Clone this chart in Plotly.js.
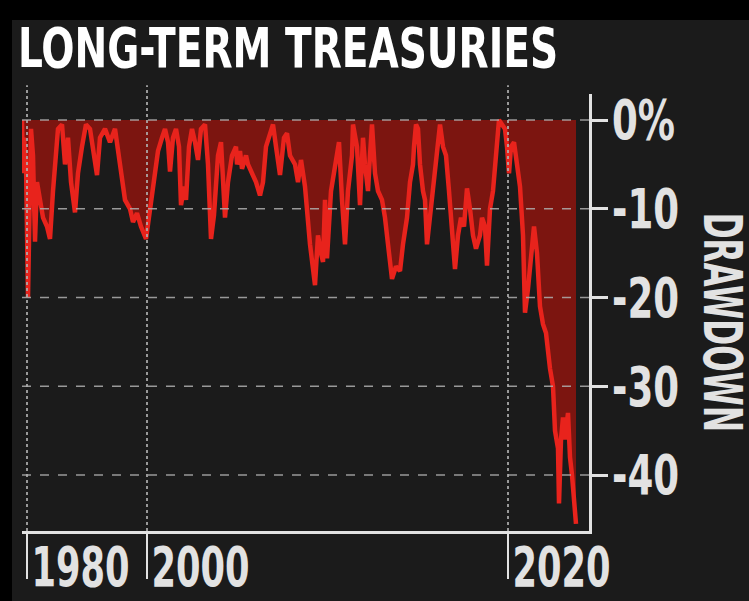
<!DOCTYPE html>
<html>
<head>
<meta charset="utf-8">
<script src="https://cdn.plot.ly/plotly-3.0.1.min.js"></script>
<style>
  html, body { margin: 0; padding: 0; background: #000; width: 749px; height: 601px; overflow: hidden; }
  #chart { position: absolute; left: 12px; top: 20px; width: 737px; height: 581px; }
</style>
</head>
<body>
<div id="chart"></div>
<script>
// time index (chart positions along the period axis) and drawdown values (%)
const period = [0,1,2,4,6,8,9,11,13,15,18,21,25,28,31,34,36,40,43,46,49,53,56,60,64,68,75,78,83,88,93,98,103,108,111,115,119,124,127,129,133,136,140,143,146,148,151,154,157,159,162,164,167,170,173,176,179,183,186,189,192,196,199,203,206,210,214,215,218,220,224,226,230,234,238,241,244,248,251,254,258,262,265,268,273,276,279,283,288,293,296,299,301,303,305,309,314,317,320,323,326,330,331,335,338,341,343,346,348,350,353,356,360,363,366,370,374,378,381,385,388,391,392,394,396,398,401,403,405,408,411,414,416,418,421,424,427,430,433,436,439,442,445,448,451,454,458,460,463,465,468,471,473,475,477,480,483,485,487,489,492,495,498,501,503,506,509,512,515,518,521,524,528,531,533,536,537,539,541,543,546,548,550,552,554];
const drawdown = [0,-6,-2,-5,-20,-8,-1,-4,-13.7,-7,-9,-11,-12,-13.4,-8,-3,-1,-0.5,-5,-2,-7,-10.4,-6,-3,-0.5,-1,-6.2,-2,-1,-2.5,-1,-5,-9,-10,-11.5,-10.5,-12,-13.4,-11,-9,-6,-3.5,-2,-1,-2.5,-5.8,-2,-1,-3,-9.6,-7.5,-9,-3,-1,-2.5,-4.5,-1,-0.5,-5,-13.4,-10.7,-4,-2.5,-11,-7,-4,-3,-5,-3.5,-5.5,-4,-5,-6,-7,-8.5,-7,-3,-1.5,-0.5,-3,-6.2,-2,-1.5,-4,-5,-7,-4.5,-7.5,-14,-18.6,-13,-15,-16,-9,-15.6,-8,-4.5,-2.5,-9,-14,-8,-4,-0.5,-3,-9.6,-2,-5,-8,-4,-0.5,-6,-8,-9,-11,-14,-17.9,-16.5,-17,-14,-11,-7,-5,-3,-0.5,-1,-5,-8,-9,-14,-11,-8,-4.5,-2,-0.5,-3,-4,-8,-13,-16.8,-13,-11,-12,-7.7,-10,-13,-14.5,-13,-11,-12,-16.4,-10,-8,-5,-2,0,-0.5,-1,-3,-6,-3,-2.5,-5,-7.5,-13,-21.7,-19,-15,-12,-15,-21,-23,-24,-28,-30,-35,-37,-43.2,-36,-33.5,-36,-33,-38,-40,-43,-45.5];

const xTickVals = [5, 125, 486];
const xTickText = ['1980', '2000', '2020'];
const yTickVals = [0, -10, -20, -30, -40];
const yTickText = ['0%', '-10', '-20', '-30', '-40'];

const FONT = '"DejaVu Sans Condensed", "DejaVu Sans", sans-serif';
const AXIS = '#e2e2e2';
const GRID = 'rgba(175,175,175,0.85)';

const shapes = [];
yTickVals.forEach(v => shapes.push({type:'line', xref:'paper', yref:'y', x0:0, x1:1, y0:v, y1:v,
  line:{color:GRID, width:1.5, dash:'dash'}, layer:'above'}));
xTickVals.forEach(v => shapes.push({type:'line', xref:'x', yref:'paper', x0:v, x1:v, y0:0, y1:1.02,
  line:{color:GRID, width:2, dash:'dot'}, layer:'above'}));

const trace = {
  x: period, y: drawdown, type:'scatter', mode:'lines',
  fill:'tozeroy', fillcolor:'#7c1510',
  line:{color:'#e8231c', width:4.5, shape:'linear'},
  hoverinfo:'skip'
};

const layout = {
  width: 737, height: 581,
  paper_bgcolor:'#1b1b1b', plot_bgcolor:'#1b1b1b',
  margin:{l:10, r:160, t:74, b:70},
  showlegend:false,
  title:{text:'LONG-TERM TREASURIES', xref:'container', yref:'container', x:0.008, xanchor:'left',
         y:0.985, yanchor:'top', font:{family:FONT, size:55, color:'#ffffff', weight:700}},
  xaxis:{range:[0,567], showgrid:false, zeroline:false, tickmode:'array', tickvals:xTickVals, ticktext:xTickText,
         ticks:'outside', ticklen:45, tickwidth:2, tickcolor:AXIS, showline:true, linecolor:AXIS, linewidth:3,
         tickangle:0, automargin:false, ticklabelposition:'outside right', ticklabelstandoff:-15, ticklabelshift:2,
         tickfont:{family:FONT, size:56, color:AXIS, weight:700}},
  yaxis:{range:[-46.3, 2.93], side:'right', showgrid:false, zeroline:false, tickmode:'array', tickvals:yTickVals, ticktext:yTickText,
         ticks:'outside', ticklen:16, tickwidth:3, tickcolor:AXIS, showline:true, linecolor:AXIS, linewidth:3,
         automargin:false, ticklabelstandoff:-7,
         tickfont:{family:FONT, size:55, color:AXIS, weight:700}},
  shapes: shapes,
  annotations:[{text:'DRAWDOWN', xref:'paper', yref:'paper', x:1.2363, y:0.478, xanchor:'center', yanchor:'middle',
                textangle:90, showarrow:false, font:{family:FONT, size:54, color:AXIS, weight:700}}]
};

// horizontally condense text around its anchor (reference uses a narrow condensed face)
function condense(selector, s) {
  document.querySelectorAll(selector).forEach(t => {
    const x = parseFloat(t.getAttribute('x')) || 0;
    const tr = t.getAttribute('transform') || '';
    t.setAttribute('transform', tr + ' translate(' + x + ',0) scale(' + s + ',1) translate(' + (-x) + ',0)');
  });
}

Plotly.newPlot('chart', [trace], layout, {displayModeBar:false, staticPlot:true}).then(() => {
  condense('#chart .gtitle', 0.79);
  condense('#chart .xtick text', 0.70);
  condense('#chart .ytick text', 0.75);
  condense('#chart .annotation-text', 0.64);
});
</script>
</body>
</html>
